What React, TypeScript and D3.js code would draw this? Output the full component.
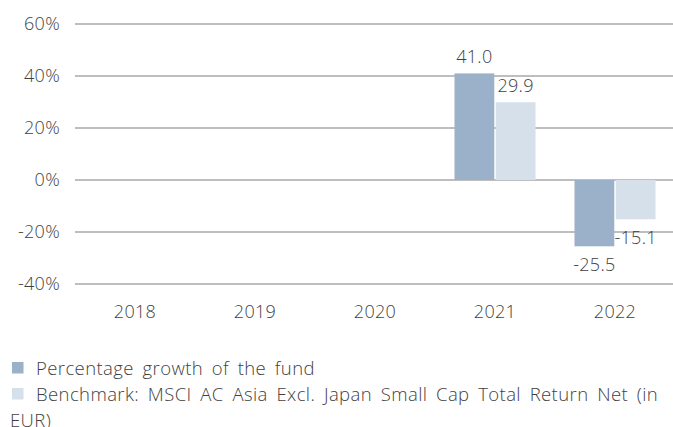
import React from "react";
import * as d3 from "d3";

const years = ["2018", "2019", "2020", "2021", "2022"];
const fundValues: (number | null)[] = [null, null, null, 41.0, -25.5];
const benchValues: (number | null)[] = [null, null, null, 29.9, -15.1];
const yTicks = [-40, -20, 0, 20, 40, 60];
const legendLines = [["Percentage growth of the fund"], ["Benchmark: MSCI AC Asia Excl. Japan Small Cap Total Return Net (in", "EUR)"]];

const W = 673;
const H = 427;
const COLORS = ["#9bb0c9", "#d6e0eb"];
const FONT = "'Open Sans', Lato, sans-serif";
const TEXT = "#3f3f3f";
const FS = 18;
const LS = 0.3;

export default function App() {
  const y = d3.scaleLinear().domain([-40, 60]).range([284, 24]);
  const x = d3.scaleBand<string>().domain(years).range([75, 675]).padding(0);
  const sub = d3.scaleBand<number>().domain([0, 1]).range([0, 81]).paddingInner(0.035);
  const series = [fundValues, benchValues];

  return (
    <svg width={W} height={H} style={{ position: "absolute", left: 0, top: 0, background: "#fff" }} fontFamily={FONT}>
      {yTicks.map((t) => (
        <g key={t}>
          <line x1={75} x2={W} y1={y(t)} y2={y(t)} stroke="#a8a8a8" strokeWidth={1.5} />
          <text x={60} y={y(t)} dy="0.36em" textAnchor="end" fontSize={FS} fontWeight={300} letterSpacing={LS} fill={TEXT}>
            {t}%
          </text>
        </g>
      ))}
      {years.map((yr) => (
        <text key={yr} x={(x(yr) as number) + x.bandwidth() / 2} y={318} textAnchor="middle" fontSize={FS} fontWeight={300} letterSpacing={LS} fill={TEXT}>
          {yr}
        </text>
      ))}
      {series.map((vals, si) =>
        vals.map((v, i) => {
          if (v === null) return null;
          const c = (x(years[i]) as number) + x.bandwidth() / 2;
          const bx = c - 40.5 + (sub(si) as number);
          const bw = sub.bandwidth();
          const top = Math.min(y(v), y(0));
          const h = Math.abs(y(v) - y(0));
          return (
            <g key={`${si}-${i}`}>
              <rect x={bx} y={top} width={bw} height={h} fill={COLORS[si]} />
              <text
                x={bx + bw / 2}
                y={v >= 0 ? y(v) - 10 : y(v) + 24.5}
                textAnchor="middle"
                fontSize={FS}
                fontWeight={300}
                letterSpacing={LS}
                fill={TEXT}
              >
                {v.toFixed(1)}
              </text>
            </g>
          );
        })
      )}
      {legendLines.map((lines, li) => (
        <g key={li}>
          <rect x={12} y={362 + li * 26} width={11.5} height={11.5} fill={COLORS[li]} />
          <text fontSize={18.5} fontWeight={300} letterSpacing={0.4} wordSpacing={3.5} fill={TEXT}>
            {lines.map((ln, k) => (
              <tspan key={k} x={k === 0 ? 36 : 10} y={375 + li * 26 + k * 26}>
                {ln}
              </tspan>
            ))}
          </text>
        </g>
      ))}
    </svg>
  );
}
